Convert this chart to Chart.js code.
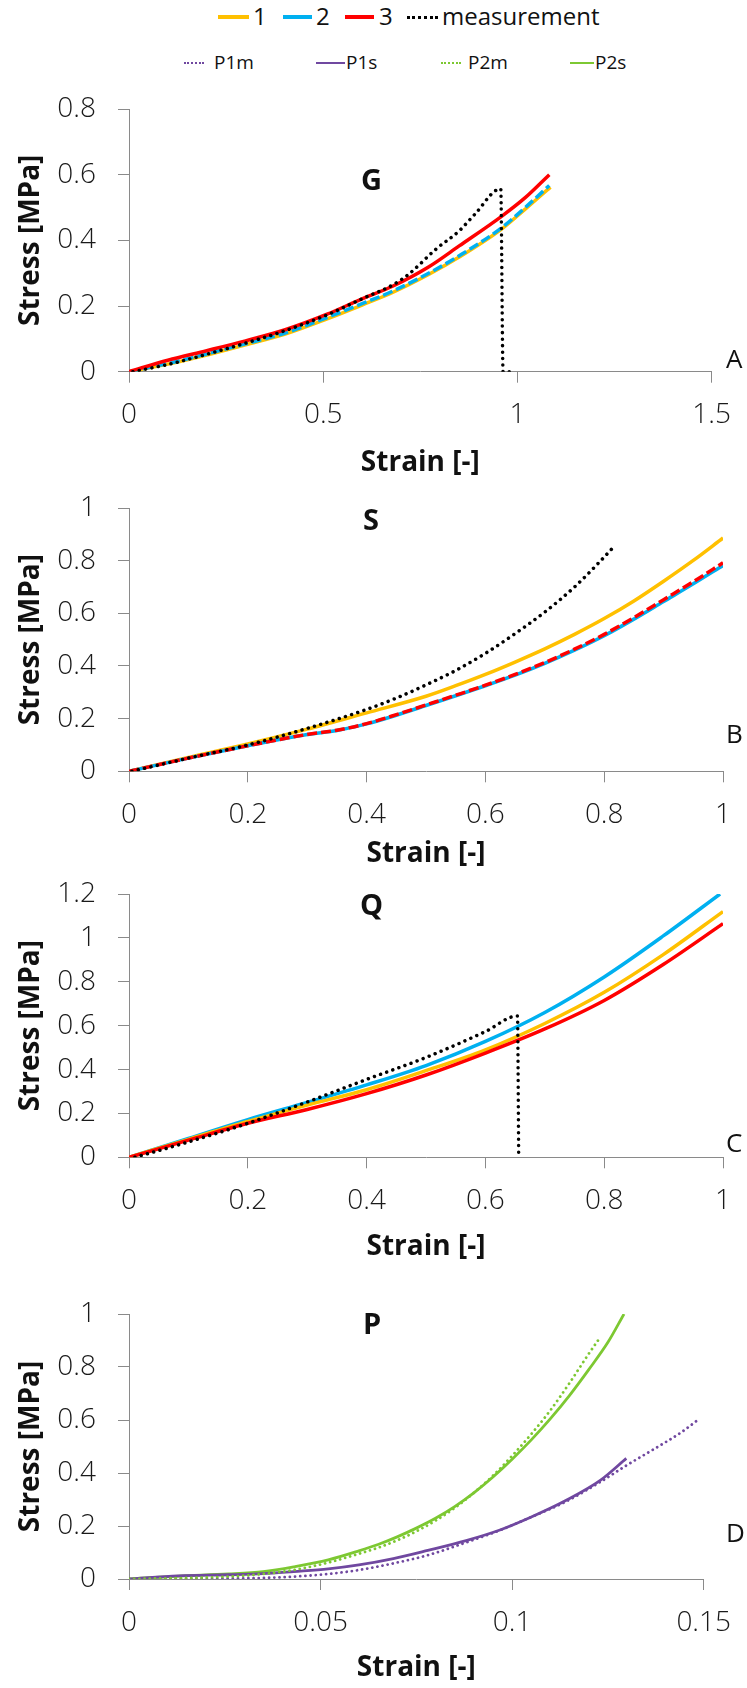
<!DOCTYPE html>
<html>
<head>
<meta charset="utf-8">
<script src="https://cdn.jsdelivr.net/npm/chart.js@4.4.1/dist/chart.umd.min.js"></script>
<style>
  html, body { margin: 0; padding: 0; background: #fff; width: 747px; height: 1688px; overflow: hidden; font-family: 'Open Sans', sans-serif; color: #111; }
  canvas { position: absolute; left: 0; }
  .sw { position: absolute; height: 0; }
  .lt { position: absolute; line-height: 1; white-space: nowrap; }
  .big { font-size: 24px; }
  .small { font-size: 19px; }
  .pl { position: absolute; font-size: 29px; font-weight: bold; line-height: 1; }
  .cl { position: absolute; font-size: 26px; line-height: 1; }
</style>
</head>
<body>

<!-- legend -->
<div class="sw" style="left:218px;top:15px;width:31px;border-top:4px solid #FFC000"></div>
<div class="lt big" style="left:253px;top:4px">1</div>
<div class="sw" style="left:283px;top:15px;width:29px;border-top:4px solid #00B0F0"></div>
<div class="lt big" style="left:316px;top:4px">2</div>
<div class="sw" style="left:345px;top:15px;width:29px;border-top:4px solid #FF0000"></div>
<div class="lt big" style="left:379px;top:4px">3</div>
<div class="sw" style="left:407px;top:16px;width:31px;border-top:3px dotted #000"></div>
<div class="lt big" style="left:442px;top:4px">measurement</div>

<div class="sw" style="left:184px;top:62px;width:20px;border-top:2px dotted #7048A0"></div>
<div class="lt small" style="left:214px;top:53px">P1m</div>
<div class="sw" style="left:316px;top:62px;width:29px;border-top:2px solid #7048A0"></div>
<div class="lt small" style="left:346px;top:53px">P1s</div>
<div class="sw" style="left:441px;top:62px;width:20px;border-top:2px dotted #7DC832"></div>
<div class="lt small" style="left:468px;top:53px">P2m</div>
<div class="sw" style="left:570px;top:62px;width:24px;border-top:2px solid #7DC832"></div>
<div class="lt small" style="left:595px;top:53px">P2s</div>

<canvas id="cG"></canvas>
<canvas id="cS"></canvas>
<canvas id="cQ"></canvas>
<canvas id="cP"></canvas>

<div class="pl" style="left:361px;top:164px">G</div>
<div class="pl" style="left:363px;top:504px">S</div>
<div class="pl" style="left:360px;top:889px">Q</div>
<div class="pl" style="left:363px;top:1308px">P</div>
<div class="cl" style="left:726px;top:345px">A</div>
<div class="cl" style="left:726px;top:720px">B</div>
<div class="cl" style="left:726px;top:1129px">C</div>
<div class="cl" style="left:726px;top:1519px">D</div>

<script>
// tick values per panel
const gXTicks = [0, 0.5, 1, 1.5];
const gYTicks = [0, 0.2, 0.4, 0.6, 0.8];
const sXTicks = [0, 0.2, 0.4, 0.6, 0.8, 1];
const sYTicks = [0, 0.2, 0.4, 0.6, 0.8, 1];
const qXTicks = [0, 0.2, 0.4, 0.6, 0.8, 1];
const qYTicks = [0, 0.2, 0.4, 0.6, 0.8, 1, 1.2];
const pXTicks = [0, 0.05, 0.1, 0.15];
const pYTicks = [0, 0.2, 0.4, 0.6, 0.8, 1];

// G : [strain, stress]
const g1 = [[0,0],[0.1,0.023],[0.2,0.051],[0.3,0.082],[0.4,0.114],[0.51,0.161],[0.6,0.203],[0.68,0.242],[0.77,0.295],[0.85,0.349],[0.96,0.435],[1.02,0.495],[1.085,0.562]];
const g2 = [[0,0],[0.1,0.025],[0.2,0.054],[0.3,0.085],[0.4,0.117],[0.51,0.165],[0.6,0.207],[0.68,0.246],[0.77,0.299],[0.85,0.353],[0.96,0.439],[1.02,0.5],[1.082,0.567]];
const g3 = [[0,0],[0.1,0.035],[0.2,0.064],[0.3,0.094],[0.4,0.127],[0.51,0.175],[0.6,0.222],[0.68,0.261],[0.77,0.318],[0.85,0.383],[0.96,0.474],[1.02,0.53],[1.082,0.6]];
const gMeas = [[0.01,0],[0.1,0.022],[0.2,0.053],[0.3,0.087],[0.4,0.124],[0.51,0.173],[0.6,0.222],[0.68,0.265],[0.72,0.297],[0.79,0.373],[0.85,0.429],[0.89,0.479],[0.957,0.557],[0.963,0],[0.985,0]];

// S
const s1 = [[0,0],[0.1,0.053],[0.2,0.104],[0.3,0.16],[0.4,0.222],[0.5,0.285],[0.55,0.325],[0.6,0.368],[0.65,0.415],[0.7,0.465],[0.75,0.52],[0.8,0.58],[0.85,0.647],[0.9,0.722],[0.95,0.801],[1.0,0.886]];
const s2 = [[0,0],[0.1,0.05],[0.2,0.097],[0.3,0.14],[0.35,0.155],[0.4,0.18],[0.45,0.213],[0.5,0.25],[0.55,0.287],[0.6,0.325],[0.65,0.365],[0.7,0.41],[0.75,0.46],[0.8,0.515],[0.85,0.578],[0.9,0.645],[0.95,0.712],[1.0,0.782]];
const s3 = [[0,0],[0.1,0.05],[0.2,0.097],[0.3,0.14],[0.35,0.156],[0.4,0.181],[0.45,0.215],[0.5,0.252],[0.55,0.289],[0.6,0.327],[0.65,0.368],[0.7,0.413],[0.75,0.464],[0.8,0.52],[0.85,0.584],[0.9,0.652],[0.95,0.72],[1.0,0.792]];
const sMeas = [[0.005,0],[0.1,0.05],[0.2,0.1],[0.3,0.163],[0.4,0.235],[0.45,0.278],[0.5,0.328],[0.55,0.383],[0.6,0.448],[0.65,0.523],[0.7,0.605],[0.75,0.7],[0.79,0.79],[0.815,0.85]];

// Q
const q1 = [[0,0],[0.1,0.082],[0.2,0.163],[0.3,0.238],[0.4,0.308],[0.5,0.395],[0.6,0.49],[0.7,0.61],[0.8,0.752],[0.9,0.925],[1.0,1.12]];
const q2 = [[0,0],[0.1,0.086],[0.2,0.172],[0.3,0.25],[0.4,0.33],[0.5,0.418],[0.6,0.528],[0.7,0.66],[0.8,0.822],[0.9,1.01],[0.995,1.2]];
const q3 = [[0,0],[0.1,0.078],[0.2,0.155],[0.3,0.218],[0.4,0.29],[0.5,0.375],[0.6,0.475],[0.7,0.585],[0.8,0.715],[0.9,0.88],[1.0,1.065]];
const qMeas = [[0.01,0],[0.1,0.07],[0.2,0.155],[0.3,0.252],[0.4,0.355],[0.5,0.455],[0.6,0.573],[0.654,0.644],[0.656,0.015]];

// P
const p1m = [[0,0],[0.026,0.002],[0.035,0.004],[0.043,0.009],[0.052,0.019],[0.06,0.034],[0.069,0.059],[0.078,0.09],[0.088,0.138],[0.097,0.185],[0.105,0.234],[0.114,0.292],[0.123,0.366],[0.13,0.43],[0.137,0.49],[0.144,0.552],[0.149,0.606]];
const p1s = [[0,0],[0.013,0.012],[0.026,0.016],[0.035,0.02],[0.043,0.028],[0.052,0.038],[0.06,0.053],[0.069,0.077],[0.078,0.108],[0.088,0.145],[0.097,0.186],[0.105,0.234],[0.114,0.296],[0.123,0.372],[0.1298,0.455]];
const p2m = [[0,0],[0.026,0.009],[0.035,0.019],[0.043,0.034],[0.052,0.062],[0.06,0.095],[0.065,0.118],[0.07,0.146],[0.075,0.18],[0.08,0.22],[0.085,0.268],[0.09,0.325],[0.095,0.39],[0.1,0.465],[0.105,0.547],[0.11,0.637],[0.115,0.74],[0.12,0.85],[0.1225,0.902]];
const p2s = [[0,0],[0.013,0.011],[0.026,0.019],[0.035,0.028],[0.043,0.046],[0.052,0.072],[0.06,0.106],[0.065,0.13],[0.07,0.159],[0.075,0.192],[0.08,0.229],[0.085,0.273],[0.09,0.325],[0.095,0.385],[0.1,0.452],[0.105,0.525],[0.11,0.605],[0.115,0.693],[0.12,0.79],[0.125,0.893],[0.1292,1.0]];

const FONT = "'Open Sans', sans-serif";
const TITLE_SIZE = 28;

function series(pts, color, style, width, order) {
  const ds = {
    data: pts.map(p => ({ x: p[0], y: p[1] })),
    borderColor: color,
    borderWidth: width,
    showLine: true,
    pointRadius: 0,
    fill: false,
    cubicInterpolationMode: 'monotone',
    order: order
  };
  if (style === 'dot') {
    ds.borderDash = [0.01, width * 1.85];
    ds.borderCapStyle = 'round';
  } else if (style === 'dash') {
    ds.borderDash = [10, 4];
  }
  return ds;
}

function fmt(v) { return String(+v.toFixed(2)); }

function panel(id, box, xTicks, yTicks, datasets) {
  const cv = document.getElementById(id);
  const cTop = box.top - 40;
  const cH = box.titleY + 22 - cTop;
  cv.width = 747; cv.height = cH;
  cv.style.top = cTop + 'px';
  const axisCol = '#8a8a8a';
  const tickFont = { family: FONT, size: 28, weight: 300 };
  const titleFont = { family: FONT, size: TITLE_SIZE, weight: 'bold' };
  new Chart(cv, {
    type: 'scatter',
    data: { datasets: datasets },
    options: {
      responsive: false,
      animation: false,
      layout: { padding: { top: 40, right: 747 - box.right, bottom: 0, left: 0 } },
      plugins: { legend: { display: false }, tooltip: { enabled: false } },
      scales: {
        x: {
          type: 'linear',
          min: xTicks[0], max: xTicks[xTicks.length - 1],
          afterBuildTicks: s => { s.ticks = xTicks.map(v => ({ value: v })); },
          afterFit: s => { s.height = cH - (box.bottom - cTop); },
          border: { display: true, color: axisCol, width: 1 },
          grid: { drawOnChartArea: false, drawTicks: true, tickLength: 11, color: axisCol },
          ticks: { font: tickFont, color: '#1a1a1a', padding: 16, maxRotation: 0, autoSkip: false, callback: fmt },
          title: { display: true, text: 'Strain [-]', color: '#111', font: titleFont, padding: { top: 0, bottom: 22 - TITLE_SIZE * 0.6 } }
        },
        y: {
          type: 'linear',
          min: yTicks[0], max: yTicks[yTicks.length - 1],
          afterBuildTicks: s => { s.ticks = yTicks.map(v => ({ value: v })); },
          afterFit: s => { s.width = 129; },
          border: { display: true, color: axisCol, width: 1 },
          grid: { drawOnChartArea: false, drawTicks: true, tickLength: 11, color: axisCol },
          ticks: { font: tickFont, color: '#1a1a1a', padding: 22, autoSkip: false, callback: fmt },
          title: { display: true, text: 'Stress [MPa]', color: '#111', font: titleFont, padding: { top: 31 - TITLE_SIZE * 0.6, bottom: 0 } }
        }
      }
    }
  });
}

const ORANGE = '#FFC000', BLUE = '#00B0F0', RED = '#FF0000', BLACK = '#000000';
const PURPLE = '#7048A0', GREEN = '#7DC832';

panel('cG', { top: 109.3, bottom: 372.7, right: 718, titleY: 464 }, gXTicks, gYTicks, [
  series(g1, ORANGE, 'solid', 3.5, 4),
  series(g2, BLUE, 'dash', 3.5, 3),
  series(g3, RED, 'solid', 3.5, 2),
  series(gMeas, BLACK, 'dot', 3.5, 1)
]);

panel('cS', { top: 508.3, bottom: 772.3, right: 732, titleY: 855 }, sXTicks, sYTicks, [
  series(s1, ORANGE, 'solid', 3.5, 4),
  series(s2, BLUE, 'solid', 3.5, 3),
  series(s3, RED, 'dash', 3.5, 2),
  series(sMeas, BLACK, 'dot', 3.5, 1)
]);

panel('cQ', { top: 894.3, bottom: 1158.3, right: 732, titleY: 1248 }, qXTicks, qYTicks, [
  series(q1, ORANGE, 'solid', 3.5, 3),
  series(q2, BLUE, 'solid', 3.5, 4),
  series(q3, RED, 'solid', 3.5, 2),
  series(qMeas, BLACK, 'dot', 3.5, 1)
]);

panel('cP', { top: 1314, bottom: 1579, right: 710, titleY: 1668 }, pXTicks, pYTicks, [
  series(p1m, PURPLE, 'dot', 2.8, 2),
  series(p1s, PURPLE, 'solid', 2.8, 3),
  series(p2m, GREEN, 'dot', 2.8, 1),
  series(p2s, GREEN, 'solid', 2.8, 4)
]);
</script>
</body>
</html>
